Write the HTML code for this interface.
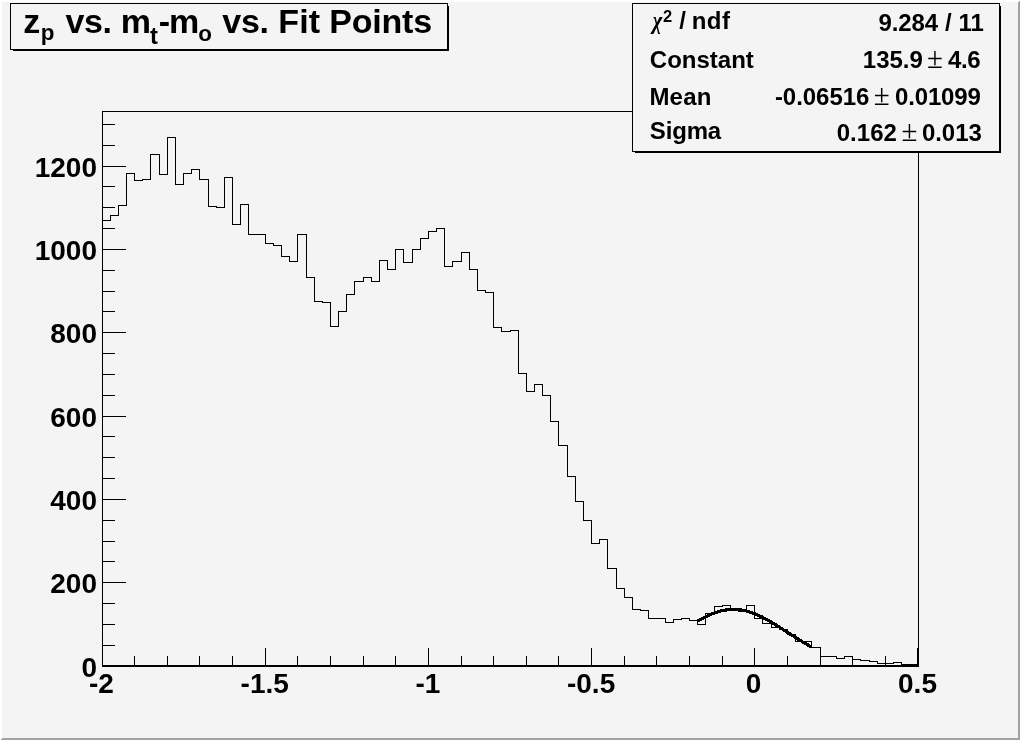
<!DOCTYPE html>
<html lang="en">
<head>
<meta charset="utf-8">
<title>z_p vs. m_t-m_o vs. Fit Points</title>
<style>
html,body{margin:0;padding:0;background:#f4f4f4;}
body{width:1020px;height:740px;overflow:hidden;position:relative;}
svg{display:block;position:absolute;left:0;top:0;will-change:transform;}
text{font-family:"Liberation Sans",sans-serif;font-weight:bold;fill:#000;}
.ax{font-size:28px;}
.symb{font-family:"Liberation Serif",serif;font-weight:bold;font-style:italic;}
.pms{font-family:"Liberation Serif",serif;font-weight:normal;}
.crisp{shape-rendering:crispEdges;}
</style>
</head>
<body>
<svg width="1020" height="740" viewBox="0 0 1020 740">
<!-- canvas with bevel border -->
<g class="crisp">
<rect x="0" y="0" width="1020" height="740" fill="#f4f4f4"/>
<polygon points="0,0 1020,0 1018,2 2,2 2,738 0,740" fill="#ffffff"/>
<polygon points="1020,0 1020,740 0,740 2,738 1018,738 1018,2" fill="#a2a2a2"/>
</g>

<!-- title box -->
<g class="crisp" fill="#000">
<rect x="13" y="6" width="436" height="45"/>
<rect x="10" y="3" width="438" height="47"/>
<rect x="11" y="4" width="436" height="45" fill="#f4f4f4"/>
</g>
<g id="title">
<text x="23.2" y="32.5" style="font-size:34px">z</text>
<text x="40.7" y="40.3" style="font-size:22.4px">p</text>
<text x="65.4" y="32.5" style="font-size:34px;letter-spacing:-0.35px">vs.</text>
<text x="120.7" y="32.5" style="font-size:34px">m</text>
<text x="150.1" y="43.7" style="font-size:23.8px">t</text>
<text x="158.7" y="32.5" style="font-size:34px">-</text>
<text x="168.9" y="32.5" style="font-size:34px">m</text>
<text x="198.2" y="40.5" style="font-size:22.4px">o</text>
<text x="222.3" y="32.5" style="font-size:34px;letter-spacing:-0.25px">vs.</text>
<text x="278.3" y="32.5" style="font-size:34px;letter-spacing:0.1px">Fit</text>
<text x="329.2" y="32.5" style="font-size:34px;letter-spacing:-0.2px">Points</text>
</g>

<!-- plot frame -->
<g class="crisp" fill="#000">
<rect x="102" y="111" width="817" height="1"/>
<rect x="102" y="111" width="1" height="556"/>
<rect x="918" y="111" width="1" height="556"/>
<rect x="102" y="665" width="817" height="2"/>
<rect x="917" y="648" width="1" height="18"/>
<rect x="103" y="645" width="12" height="1"/>
<rect x="103" y="624" width="12" height="1"/>
<rect x="103" y="603" width="12" height="1"/>
<rect x="103" y="582" width="23" height="1"/>
<rect x="103" y="561" width="12" height="1"/>
<rect x="103" y="541" width="12" height="1"/>
<rect x="103" y="520" width="12" height="1"/>
<rect x="103" y="499" width="23" height="1"/>
<rect x="103" y="478" width="12" height="1"/>
<rect x="103" y="457" width="12" height="1"/>
<rect x="103" y="436" width="12" height="1"/>
<rect x="103" y="416" width="23" height="1"/>
<rect x="103" y="395" width="12" height="1"/>
<rect x="103" y="374" width="12" height="1"/>
<rect x="103" y="353" width="12" height="1"/>
<rect x="103" y="332" width="23" height="1"/>
<rect x="103" y="311" width="12" height="1"/>
<rect x="103" y="291" width="12" height="1"/>
<rect x="103" y="270" width="12" height="1"/>
<rect x="103" y="249" width="23" height="1"/>
<rect x="103" y="228" width="12" height="1"/>
<rect x="103" y="207" width="12" height="1"/>
<rect x="103" y="186" width="12" height="1"/>
<rect x="103" y="166" width="23" height="1"/>
<rect x="103" y="145" width="12" height="1"/>
<rect x="103" y="124" width="12" height="1"/>
<rect x="134" y="656" width="1" height="9"/>
<rect x="167" y="656" width="1" height="9"/>
<rect x="199" y="656" width="1" height="9"/>
<rect x="232" y="656" width="1" height="9"/>
<rect x="265" y="648" width="1" height="17"/>
<rect x="297" y="656" width="1" height="9"/>
<rect x="330" y="656" width="1" height="9"/>
<rect x="363" y="656" width="1" height="9"/>
<rect x="395" y="656" width="1" height="9"/>
<rect x="428" y="648" width="1" height="17"/>
<rect x="461" y="656" width="1" height="9"/>
<rect x="493" y="656" width="1" height="9"/>
<rect x="526" y="656" width="1" height="9"/>
<rect x="558" y="656" width="1" height="9"/>
<rect x="591" y="648" width="1" height="17"/>
<rect x="624" y="656" width="1" height="9"/>
<rect x="656" y="656" width="1" height="9"/>
<rect x="689" y="656" width="1" height="9"/>
<rect x="722" y="656" width="1" height="9"/>
<rect x="754" y="648" width="1" height="17"/>
<rect x="787" y="656" width="1" height="9"/>
<rect x="820" y="656" width="1" height="9"/>
<rect x="852" y="656" width="1" height="9"/>
<rect x="885" y="656" width="1" height="9"/>
</g>

<!-- histogram -->
<path class="crisp" d="M102.5 665.5 V220.5 H110.5 V215.5 H118.5 V205.5 H126.5 V173.5 H134.5 V180.5 H142.5 V179.5 H150.5 V154.5 H159.5 V174.5 H167.5 V137.5 H175.5 V184.5 H183.5 V173.5 H191.5 V169.5 H199.5 V179.5 H208.5 V206.5 H216.5 V207.5 H224.5 V177.5 H232.5 V224.5 H240.5 V204.5 H248.5 V234.5 H257.5 V234.5 H265.5 V243.5 H273.5 V245.5 H281.5 V256.5 H289.5 V261.5 H297.5 V234.5 H306.5 V277.5 H314.5 V301.5 H322.5 V302.5 H330.5 V326.5 H338.5 V311.5 H346.5 V294.5 H354.5 V281.5 H363.5 V277.5 H371.5 V281.5 H379.5 V260.5 H387.5 V269.5 H395.5 V249.5 H403.5 V262.5 H412.5 V249.5 H420.5 V238.5 H428.5 V231.5 H436.5 V228.5 H444.5 V266.5 H452.5 V261.5 H461.5 V252.5 H469.5 V269.5 H477.5 V290.5 H485.5 V292.5 H493.5 V327.5 H501.5 V331.5 H510.5 V330.5 H518.5 V373.5 H526.5 V391.5 H534.5 V384.5 H542.5 V395.5 H550.5 V421.5 H558.5 V445.5 H567.5 V476.5 H575.5 V501.5 H583.5 V520.5 H591.5 V543.5 H599.5 V539.5 H607.5 V568.5 H616.5 V588.5 H624.5 V597.5 H632.5 V609.5 H640.5 V610.5 H648.5 V618.5 H656.5 V618.5 H665.5 V622.5 H673.5 V619.5 H681.5 V618.5 H689.5 V620.5 H697.5 V624.5 H705.5 V613.5 H714.5 V606.5 H722.5 V605.5 H730.5 V609.5 H738.5 V611.5 H746.5 V605.5 H754.5 V618.5 H762.5 V623.5 H771.5 V627.5 H779.5 V629.5 H787.5 V634.5 H795.5 V641.5 H803.5 V641.5 H811.5 V647.5 H820.5 V656.5 H828.5 V656.5 H836.5 V658.5 H844.5 V656.5 H852.5 V659.5 H860.5 V660.5 H869.5 V661.5 H877.5 V663.5 H885.5 V663.5 H893.5 V662.5 H901.5 V664.5 H909.5 V664.5 H918.5" fill="none" stroke="#000" stroke-width="1"/>
<!-- gaussian fit -->
<polyline class="crisp" points="697.70,621.02 699.60,619.94 701.51,618.89 703.41,617.88 705.32,616.92 707.22,616.00 709.12,615.12 711.03,614.30 712.93,613.54 714.84,612.83 716.74,612.18 718.64,611.60 720.55,611.08 722.45,610.63 724.36,610.24 726.26,609.93 728.16,609.69 730.07,609.52 731.97,609.42 733.88,609.40 735.78,609.44 737.68,609.57 739.59,609.76 741.49,610.03 743.40,610.37 745.30,610.77 747.20,611.25 749.11,611.79 751.01,612.40 752.92,613.07 754.82,613.79 756.72,614.58 758.63,615.41 760.53,616.30 762.44,617.24 764.34,618.22 766.24,619.24 768.15,620.30 770.05,621.39 771.96,622.52 773.86,623.67 775.76,624.84 777.67,626.03 779.57,627.24 781.48,628.46 783.38,629.69 785.28,630.92 787.19,632.16 789.09,633.39 791.00,634.63 792.90,635.85 794.80,637.06 796.71,638.26 798.61,639.45 800.52,640.61 802.42,641.76 804.32,642.89 806.23,643.99 808.13,645.06 810.04,646.11 811.94,647.14" fill="none" stroke="#000" stroke-width="3.2" stroke-linejoin="round"/>

<!-- axis labels -->
<g id="ylabels">
<text class="ax" x="97.0" y="676.6" text-anchor="end">0</text>
<text class="ax" x="97.0" y="593.3" text-anchor="end">200</text>
<text class="ax" x="97.0" y="510.0" text-anchor="end">400</text>
<text class="ax" x="97.0" y="426.7" text-anchor="end">600</text>
<text class="ax" x="97.0" y="343.4" text-anchor="end">800</text>
<text class="ax" x="97.0" y="260.1" text-anchor="end">1000</text>
<text class="ax" x="97.0" y="176.8" text-anchor="end">1200</text>
</g>
<g id="xlabels">
<text class="ax" x="101.5" y="692.8" text-anchor="middle">-2</text>
<text class="ax" x="264.7" y="692.8" text-anchor="middle">-1.5</text>
<text class="ax" x="427.9" y="692.8" text-anchor="middle">-1</text>
<text class="ax" x="591.1" y="692.8" text-anchor="middle">-0.5</text>
<text class="ax" x="753.5" y="692.8" text-anchor="middle">0</text>
<text class="ax" x="917.5" y="692.8" text-anchor="middle">0.5</text>
</g>

<!-- stats box -->
<g class="crisp" fill="#000">
<rect x="635" y="6" width="366" height="147"/>
<rect x="632" y="3" width="368" height="149"/>
<rect x="633" y="4" width="366" height="147" fill="#f4f4f4"/>
</g>
<g id="stats">
<text class="symb" transform="translate(652.8 28.6) scale(0.84 1)" style="font-size:24.5px">χ</text>
<text x="662.9" y="21.7" style="font-size:16.5px">2</text>
<text x="679.2" y="28.5" style="font-size:24px">/</text>
<text x="691.7" y="28.5" style="font-size:24px;letter-spacing:0.5px">ndf</text>
<text x="649.8" y="67.6" style="font-size:24px">Constant</text>
<text x="649.4" y="104.7" style="font-size:24px;letter-spacing:0.233px">Mean</text>
<text x="649.8" y="139.4" style="font-size:24px;letter-spacing:-0.15px">Sigma</text>
<text x="878.6" y="30.8" style="font-size:24px;letter-spacing:-0.15px">9.284</text>
<text x="945.1" y="30.8" style="font-size:24px">/</text>
<text x="958.4" y="30.8" style="font-size:24px">11</text>
<text x="862.8" y="67.5" style="font-size:24px">135.9</text>
<text class="pms" x="926.9" y="67.5" style="font-size:29px">±</text>
<text x="948" y="67.5" style="font-size:24px;letter-spacing:-0.35px">4.6</text>
<text x="774.9" y="104.8" style="font-size:24px;letter-spacing:-0.043px">-0.06516</text>
<text class="pms" x="873.8" y="104.8" style="font-size:29px">±</text>
<text x="895.1" y="104.8" style="font-size:24px;letter-spacing:-0.183px">0.01099</text>
<text x="836.7" y="141" style="font-size:24px;letter-spacing:0.05px">0.162</text>
<text class="pms" x="901.4" y="141" style="font-size:29px">±</text>
<text x="921.9" y="141" style="font-size:24px;letter-spacing:-0.025px">0.013</text>
</g>
</svg>
</body>
</html>
